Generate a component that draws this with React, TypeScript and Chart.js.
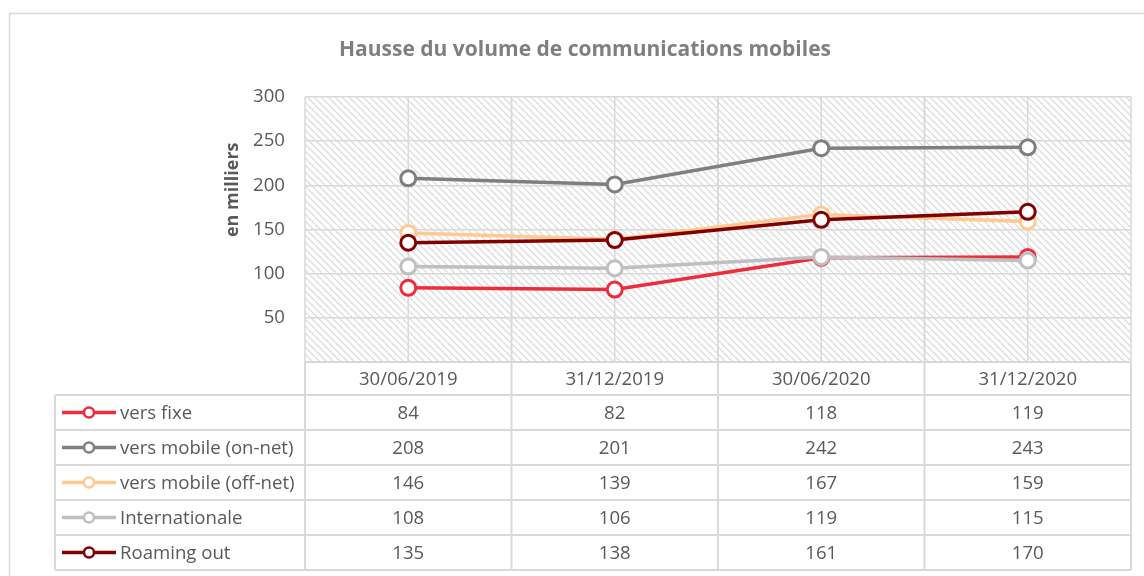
import React, { useEffect, useRef } from "react";
import { Chart, registerables } from "chart.js";

Chart.register(...registerables);

const categories = ["30/06/2019", "31/12/2019", "30/06/2020", "31/12/2020"];
const seriesNames = ["vers fixe", "vers mobile (on-net)", "vers mobile (off-net)", "Internationale", "Roaming out"];
const versFixe = [84, 82, 118, 119];
const versMobileOnNet = [208, 201, 242, 243];
const versMobileOffNet = [146, 139, 167, 159];
const internationale = [108, 106, 119, 115];
const roamingOut = [135, 138, 161, 170];
const seriesValues = [versFixe, versMobileOnNet, versMobileOffNet, internationale, roamingOut];
const seriesColors = ["#EE2D3C", "#7F7F7F", "#FFC992", "#BFBFC1", "#820000"];
const chartTitle = "Hausse du volume de communications mobiles";
const yAxisTitle = "en milliers";
const yMin = 0;
const yMax = 300;
const yStep = 50;

const FONT = "'Open Sans', sans-serif";
const TEXT = "#595959";
const LINE = "#d9d9d9";

function makeHatch(ctx: CanvasRenderingContext2D) {
  const s = 7;
  const c = document.createElement("canvas");
  c.width = s;
  c.height = s;
  const g = c.getContext("2d")!;
  g.fillStyle = "#ffffff";
  g.fillRect(0, 0, s, s);
  g.strokeStyle = "#dcdcdc";
  g.lineWidth = 1.3;
  for (let k = -1; k <= 1; k++) {
    g.beginPath();
    g.moveTo(k * s, 0);
    g.lineTo(k * s + s, s);
    g.stroke();
  }
  return ctx.createPattern(c, "repeat");
}

const decorPlugin = {
  id: "decor",
  beforeDraw(chart: any) {
    const { ctx, chartArea: a } = chart;
    ctx.save();
    ctx.fillStyle = "#ffffff";
    ctx.fillRect(0, 0, chart.width, chart.height);
    ctx.strokeStyle = LINE;
    ctx.lineWidth = 1.5;
    ctx.strokeRect(9.5, 13.5, chart.width + 20, chart.height + 20);
    const pat = makeHatch(ctx);
    if (pat) {
      ctx.fillStyle = pat;
      ctx.fillRect(a.left, a.top, a.right - a.left, a.bottom - a.top);
    }
    const x = chart.scales.x;
    const half = (x.getPixelForValue(1) - x.getPixelForValue(0)) / 2;
    ctx.strokeStyle = LINE;
    ctx.lineWidth = 1.5;
    for (let i = 0; i < categories.length; i++) {
      const c = x.getPixelForValue(i);
      for (const px of [c - half, c, c + half]) {
        ctx.beginPath();
        ctx.moveTo(px, a.top);
        ctx.lineTo(px, a.bottom);
        ctx.stroke();
      }
    }
    ctx.restore();
  },
  afterDraw(chart: any) {
    const { ctx, chartArea: a } = chart;
    const x = chart.scales.x;
    const y = chart.scales.y;
    const half = (x.getPixelForValue(1) - x.getPixelForValue(0)) / 2;
    ctx.save();
    // title
    ctx.fillStyle = "#7F7F7F";
    ctx.font = `bold 21px ${FONT}`;
    ctx.textAlign = "center";
    ctx.textBaseline = "middle";
    ctx.fillText(chartTitle, 585, 50);
    // y title
    ctx.save();
    ctx.translate(233, y.getPixelForValue(195));
    ctx.rotate(-Math.PI / 2);
    ctx.fillStyle = TEXT;
    ctx.font = `bold 18px ${FONT}`;
    ctx.fillText(yAxisTitle, 0, 0);
    ctx.restore();

    // data table
    const headerH = 33;
    const rowH = 35;
    const top = a.bottom;
    const legendLeft = 55;
    const bodyTop = top + headerH;
    const bottom = bodyTop + rowH * seriesNames.length;
    const right = x.getPixelForValue(categories.length - 1) + half;
    ctx.strokeStyle = LINE;
    ctx.lineWidth = 2;
    ctx.beginPath();
    ctx.moveTo(a.left, top);
    ctx.lineTo(right, top);
    for (let r = 0; r <= seriesNames.length; r++) {
      const yy = bodyTop + r * rowH;
      ctx.moveTo(legendLeft, yy);
      ctx.lineTo(right, yy);
    }
    ctx.moveTo(legendLeft, bodyTop);
    ctx.lineTo(legendLeft, bottom);
    for (let i = 0; i <= categories.length; i++) {
      const px = x.getPixelForValue(0) - half + i * 2 * half;
      ctx.moveTo(px, top);
      ctx.lineTo(px, bottom);
    }
    ctx.stroke();

    ctx.fillStyle = TEXT;
    ctx.font = `18.6px ${FONT}`;
    ctx.textAlign = "center";
    ctx.textBaseline = "middle";
    categories.forEach((c, i) => ctx.fillText(c, x.getPixelForValue(i), top + headerH / 2 + 1));
    seriesNames.forEach((name, r) => {
      const cy = bodyTop + r * rowH + rowH / 2;
      const col = seriesColors[r];
      ctx.strokeStyle = col;
      ctx.lineWidth = 3.5;
      ctx.beginPath();
      ctx.moveTo(62, cy);
      ctx.lineTo(116, cy);
      ctx.stroke();
      ctx.beginPath();
      ctx.arc(89, cy, 5, 0, Math.PI * 2);
      ctx.fillStyle = "#ffffff";
      ctx.fill();
      ctx.lineWidth = 2.5;
      ctx.stroke();
      ctx.fillStyle = TEXT;
      ctx.textAlign = "left";
      ctx.fillText(name, 120, cy + 1);
      ctx.textAlign = "center";
      seriesValues[r].forEach((v, i) => ctx.fillText(String(v), x.getPixelForValue(i), cy + 1));
    });
    ctx.restore();
  },
};

export default function App() {
  const ref = useRef<HTMLCanvasElement>(null);
  useEffect(() => {
    if (!ref.current) return;
    const n = seriesNames.length;
    const chart = new Chart(ref.current, {
      type: "line",
      data: {
        labels: categories,
        datasets: seriesNames.map((name, i) => ({
          label: name,
          data: seriesValues[i],
          borderColor: seriesColors[i],
          backgroundColor: seriesColors[i],
          borderWidth: 3.5,
          pointRadius: 7.5,
          pointBorderWidth: 3,
          pointBackgroundColor: "#ffffff",
          pointBorderColor: seriesColors[i],
          order: n - i,
          tension: 0,
        })),
      },
      options: {
        responsive: false,
        animation: false,
        layout: { padding: { left: 205, top: 97, right: 13, bottom: 214 } },
        plugins: { legend: { display: false }, tooltip: { enabled: false }, title: { display: false } },
        scales: {
          x: { display: false, offset: true },
          y: {
            min: yMin,
            max: yMax,
            afterFit(s: any) {
              s.width = 100;
            },
            ticks: {
              stepSize: yStep,
              padding: 20,
              color: TEXT,
              font: { family: FONT, size: 18.6 },
              callback: (v: any) => (v === 0 ? "" : String(v)),
            },
            grid: { color: LINE, lineWidth: 1.5, drawTicks: false },
            border: { display: false },
          },
        },
      },
      plugins: [decorPlugin],
    });
    return () => chart.destroy();
  }, []);
  return (
    <div style={{ position: "absolute", left: 0, top: 0, width: 1144, height: 576 }}>
      <canvas ref={ref} width={1144} height={576} style={{ width: 1144, height: 576 }} />
    </div>
  );
}
